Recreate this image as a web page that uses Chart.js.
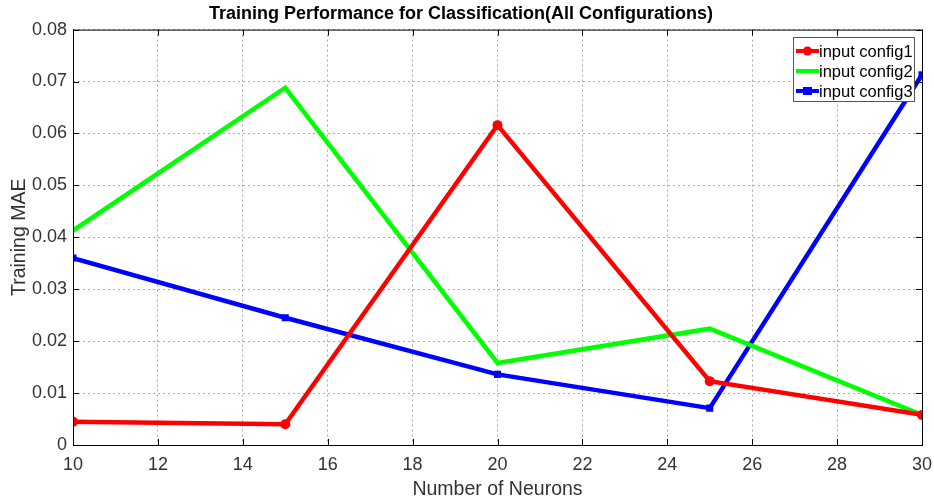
<!DOCTYPE html>
<html lang="en">
<head>
    <meta charset="UTF-8">
    <title>Training Performance for Classification</title>
    <script src="https://cdn.jsdelivr.net/npm/chart.js"></script>
    <style>
        body { margin: 0; background: #fff; }
        .chart-container { width: 934px; height: 501px; }
    </style>
</head>
<body>
    <div class="chart-container">
        <canvas id="myChart"></canvas>
    </div>

    <script>
        // Data
        const neurons = [10, 15, 20, 25, 30];
        const config1 = [0.0045, 0.0040, 0.0616, 0.0123, 0.0058];
        const config2 = [0.0413, 0.0688, 0.0158, 0.0224, 0.0058];
        const config3 = [0.0360, 0.0245, 0.0136, 0.0071, 0.0713];
        const seriesNames = ['input config1', 'input config2', 'input config3'];
        const yTicks = [0, 0.01, 0.02, 0.03, 0.04, 0.05, 0.06, 0.07, 0.08];

        const toPoints = vals => vals.map((v, i) => ({ x: neurons[i], y: v }));

        // MATLAB-like frame, inner tick marks and boxed legend
        const matlabBox = {
            id: 'matlabBox',
            afterDatasetsDraw(chart) {
                const { ctx, chartArea: a, scales } = chart;
                ctx.save();
                ctx.strokeStyle = '#000';
                ctx.lineWidth = 1;
                ctx.strokeRect(a.left + 0.5, a.top + 0.5, a.right - a.left, a.bottom - a.top);
                ctx.beginPath();
                scales.x.ticks.forEach(t => {
                    const px = Math.round(scales.x.getPixelForValue(t.value)) + 0.5;
                    ctx.moveTo(px, a.bottom); ctx.lineTo(px, a.bottom - 6);
                    ctx.moveTo(px, a.top); ctx.lineTo(px, a.top + 6);
                });
                scales.y.ticks.forEach(t => {
                    const py = Math.round(scales.y.getPixelForValue(t.value)) + 0.5;
                    ctx.moveTo(a.left, py); ctx.lineTo(a.left + 6, py);
                    ctx.moveTo(a.right, py); ctx.lineTo(a.right - 6, py);
                });
                ctx.stroke();

                // legend
                const bx = 793, by = 37, bw = 121, bh = 64;
                ctx.fillStyle = '#fff';
                ctx.fillRect(bx, by, bw, bh);
                ctx.strokeStyle = '#555';
                ctx.strokeRect(bx + 0.5, by + 0.5, bw, bh);
                ctx.font = '16.5px Arial, "Liberation Sans", sans-serif';
                ctx.textBaseline = 'middle';
                chart.data.datasets.forEach((ds, i) => {
                    const y = by + 14 + i * 20;
                    ctx.strokeStyle = ds.borderColor;
                    ctx.lineWidth = 4;
                    ctx.beginPath();
                    ctx.moveTo(bx + 3, y); ctx.lineTo(bx + 26, y);
                    ctx.stroke();
                    ctx.fillStyle = ds.borderColor;
                    if (ds.pointStyle === 'circle') {
                        ctx.beginPath(); ctx.arc(bx + 14.5, y, 4.5, 0, Math.PI * 2); ctx.fill();
                    } else if (ds.pointStyle === 'rect') {
                        ctx.fillRect(bx + 10, y - 4, 9, 8);
                    }
                    ctx.fillStyle = '#000';
                    ctx.fillText(ds.label, bx + 26, y + 1);
                });
                ctx.restore();
            }
        };

        const tickFont = { family: 'Arial, "Liberation Sans", sans-serif', size: 18 };
        const labelFont = { family: 'Arial, "Liberation Sans", sans-serif', size: 19.5 };

        new Chart(document.getElementById('myChart').getContext('2d'), {
            type: 'line',
            data: {
                datasets: [{
                    label: seriesNames[0],
                    data: toPoints(config1),
                    borderColor: '#ff0000',
                    backgroundColor: '#ff0000',
                    borderWidth: 4.5,
                    pointStyle: 'circle',
                    pointRadius: 5,
                    pointBorderWidth: 0
                }, {
                    label: seriesNames[1],
                    data: toPoints(config2),
                    borderColor: '#00ff00',
                    backgroundColor: '#00ff00',
                    borderWidth: 4.5,
                    pointStyle: 'line',
                    pointRadius: 0
                }, {
                    label: seriesNames[2],
                    data: toPoints(config3),
                    borderColor: '#0000ff',
                    backgroundColor: '#0000ff',
                    borderWidth: 4.5,
                    pointStyle: 'rect',
                    pointRadius: 5,
                    pointBorderWidth: 0
                }]
            },
            options: {
                responsive: true,
                maintainAspectRatio: false,
                animation: false,
                layout: { padding: { left: 0, right: 12, top: 0, bottom: 0 } },
                scales: {
                    x: {
                        type: 'linear',
                        min: 10,
                        max: 30,
                        ticks: { stepSize: 2, color: '#333', font: tickFont, padding: 9 },
                        grid: { color: '#aaa', drawTicks: false },
                        border: { display: false, dash: [2, 3] },
                        title: {
                            display: true,
                            text: 'Number of Neurons',
                            color: '#333',
                            font: labelFont,
                            padding: { top: 0, bottom: 0 }
                        },
                        afterFit(scale) {
                            scale.height = 56;
                            scale.paddingRight = 0;
                        }
                    },
                    y: {
                        min: 0,
                        max: 0.08,
                        afterBuildTicks(scale) { scale.ticks = yTicks.map(v => ({ value: v })); },
                        ticks: {
                            color: '#333',
                            font: tickFont,
                            padding: 6,
                            callback: v => String(+v.toFixed(2))
                        },
                        grid: { color: '#aaa', drawTicks: false },
                        border: { display: false, dash: [2, 3] },
                        title: {
                            display: true,
                            text: 'Training MAE',
                            color: '#333',
                            font: labelFont,
                            padding: { top: 8, bottom: 0 }
                        },
                        afterFit(scale) { scale.width = 73; }
                    }
                },
                plugins: {
                    legend: { display: false },
                    tooltip: { enabled: false },
                    title: {
                        display: true,
                        text: 'Training Performance for Classification(All Configurations)',
                        color: '#000',
                        font: { family: 'Arial, "Liberation Sans", sans-serif', size: 18, weight: 'bold' },
                        padding: { top: 3, bottom: 5 }
                    }
                }
            },
            plugins: [matlabBox]
        });
    </script>
</body>
</html>
